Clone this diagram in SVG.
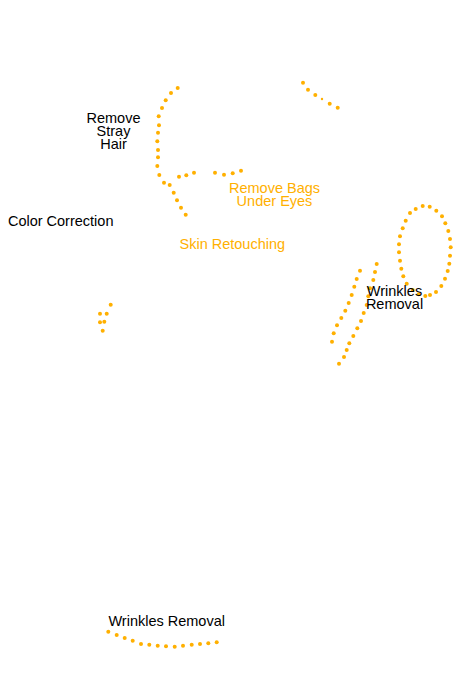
<svg xmlns="http://www.w3.org/2000/svg" width="459" height="689" viewBox="0 0 459 689">
<style>
text{font-family:"Liberation Sans",Arial,sans-serif;font-size:14.5px;text-anchor:middle}
.k{fill:#000}
.o{fill:#ffb000}
circle{fill:#ffb000}
</style>
<rect width="459" height="689" fill="#fff"/>
<g id="stray-hair">
<text class="k" x="113.5" y="123">Remove</text>
<text class="k" x="113.5" y="136">Stray</text>
<text class="k" x="113.5" y="149">Hair</text>
<g>
<circle cx="177.7" cy="88" r="2"/><circle cx="171" cy="93" r="2"/><circle cx="165.7" cy="100.3" r="2"/><circle cx="162" cy="108" r="2"/><circle cx="158.7" cy="116.3" r="2"/><circle cx="159" cy="125.3" r="2"/><circle cx="158" cy="132.7" r="2"/><circle cx="157.3" cy="141.3" r="2"/><circle cx="158" cy="150" r="2"/><circle cx="158" cy="157.3" r="2"/><circle cx="157.3" cy="166" r="2"/><circle cx="159.3" cy="175" r="2"/><circle cx="164" cy="182.7" r="2"/><circle cx="169.7" cy="185" r="2"/><circle cx="173.7" cy="192.7" r="2"/><circle cx="177" cy="200.3" r="2"/><circle cx="181" cy="207.7" r="2"/><circle cx="185.7" cy="214.7" r="2"/>
<circle cx="179" cy="176.7" r="2"/><circle cx="186.3" cy="175.3" r="2"/><circle cx="194" cy="172.7" r="2"/>
</g>
</g>
<g id="under-eyes">
<text class="o" x="274.5" y="192.5">Remove Bags</text>
<text class="o" x="274.5" y="205.5">Under Eyes</text>
<circle cx="215" cy="172.7" r="2"/><circle cx="224" cy="174.7" r="2"/><circle cx="232.7" cy="173.3" r="2"/><circle cx="241" cy="170.7" r="2"/>
<circle cx="303" cy="82.7" r="2"/><circle cx="308" cy="89.7" r="2"/><circle cx="315.3" cy="95" r="2"/><circle cx="322" cy="99" r="1.2"/><circle cx="329.7" cy="103.7" r="2"/><circle cx="337.7" cy="107.7" r="2"/>
</g>
<g id="skin-retouching">
<text class="o" x="232.3" y="248.5">Skin Retouching</text>
</g>
<g id="color-correction">
<text class="k" x="60.7" y="226">Color Correction</text>
<circle cx="110.7" cy="304.7" r="2"/><circle cx="100" cy="313.7" r="2"/><circle cx="106.7" cy="313.7" r="2"/><circle cx="100" cy="322.3" r="2"/><circle cx="104.3" cy="321.7" r="2"/><circle cx="102.7" cy="330.7" r="2"/>
</g>
<g id="wrinkles-removal-1">
<circle cx="422.7" cy="206" r="2"/><circle cx="429.7" cy="206.7" r="2"/><circle cx="436.3" cy="210.7" r="2"/><circle cx="442" cy="216.3" r="2"/><circle cx="445.3" cy="223.3" r="2"/><circle cx="448.3" cy="231" r="2"/><circle cx="450" cy="239" r="2"/><circle cx="450.7" cy="247.3" r="2"/><circle cx="450" cy="255.7" r="2"/><circle cx="449.3" cy="263.7" r="2"/><circle cx="447.7" cy="271" r="2"/><circle cx="445" cy="278.7" r="2"/><circle cx="441.3" cy="286" r="2"/><circle cx="436" cy="292" r="2"/><circle cx="430" cy="295" r="2"/><circle cx="425.3" cy="296" r="2"/><circle cx="418.7" cy="294.3" r="2"/>
<circle cx="415.7" cy="209" r="2"/><circle cx="410" cy="213" r="2"/><circle cx="405.7" cy="220.7" r="2"/><circle cx="402.7" cy="228.3" r="2"/><circle cx="400" cy="236.3" r="2"/><circle cx="399" cy="244.3" r="2"/><circle cx="399" cy="252.3" r="2"/><circle cx="400" cy="260.7" r="2"/><circle cx="401.3" cy="268.7" r="2"/><circle cx="403.3" cy="276.3" r="2"/><circle cx="406.7" cy="283.7" r="2"/><circle cx="412.7" cy="290" r="2"/>
<circle cx="360" cy="270.7" r="2"/><circle cx="356.7" cy="279" r="2"/><circle cx="354.3" cy="286.7" r="2"/><circle cx="351.7" cy="295" r="2"/><circle cx="348.7" cy="303" r="2"/><circle cx="345.3" cy="310.7" r="2"/><circle cx="341.3" cy="318" r="2"/><circle cx="337" cy="325.3" r="2"/><circle cx="333.7" cy="333.3" r="2"/><circle cx="332" cy="341.7" r="2"/>
<circle cx="376.7" cy="264" r="2"/><circle cx="375" cy="272" r="2"/><circle cx="373.3" cy="280" r="2"/><circle cx="370" cy="288.3" r="2"/><circle cx="368.3" cy="296.3" r="2"/><circle cx="366.7" cy="305" r="2"/><circle cx="363.7" cy="313" r="2"/><circle cx="361" cy="321" r="2"/><circle cx="357.3" cy="328.3" r="2"/><circle cx="353.3" cy="336" r="2"/><circle cx="349.3" cy="343.3" r="2"/><circle cx="346.7" cy="350" r="2"/><circle cx="344" cy="357" r="2"/><circle cx="339" cy="363.7" r="2"/>
<text class="k" x="394.5" y="296">Wrinkles</text>
<text class="k" x="394.5" y="309.3">Removal</text>
</g>
<g id="wrinkles-removal-2">
<text class="k" x="166.7" y="626.3">Wrinkles Removal</text>
<circle cx="108.3" cy="631.7" r="2"/><circle cx="116.7" cy="635" r="2"/><circle cx="124.7" cy="638" r="2"/><circle cx="132.7" cy="640.7" r="2"/><circle cx="141" cy="644" r="2"/><circle cx="149.3" cy="644.7" r="2"/><circle cx="157.7" cy="645.7" r="2"/><circle cx="166" cy="646.3" r="2"/><circle cx="174.7" cy="646.7" r="2"/><circle cx="183" cy="645.7" r="2"/><circle cx="191.7" cy="644.7" r="2"/><circle cx="200" cy="644" r="2"/><circle cx="208.3" cy="643.3" r="2"/><circle cx="216.7" cy="642.3" r="2"/>
</g>
</svg>
